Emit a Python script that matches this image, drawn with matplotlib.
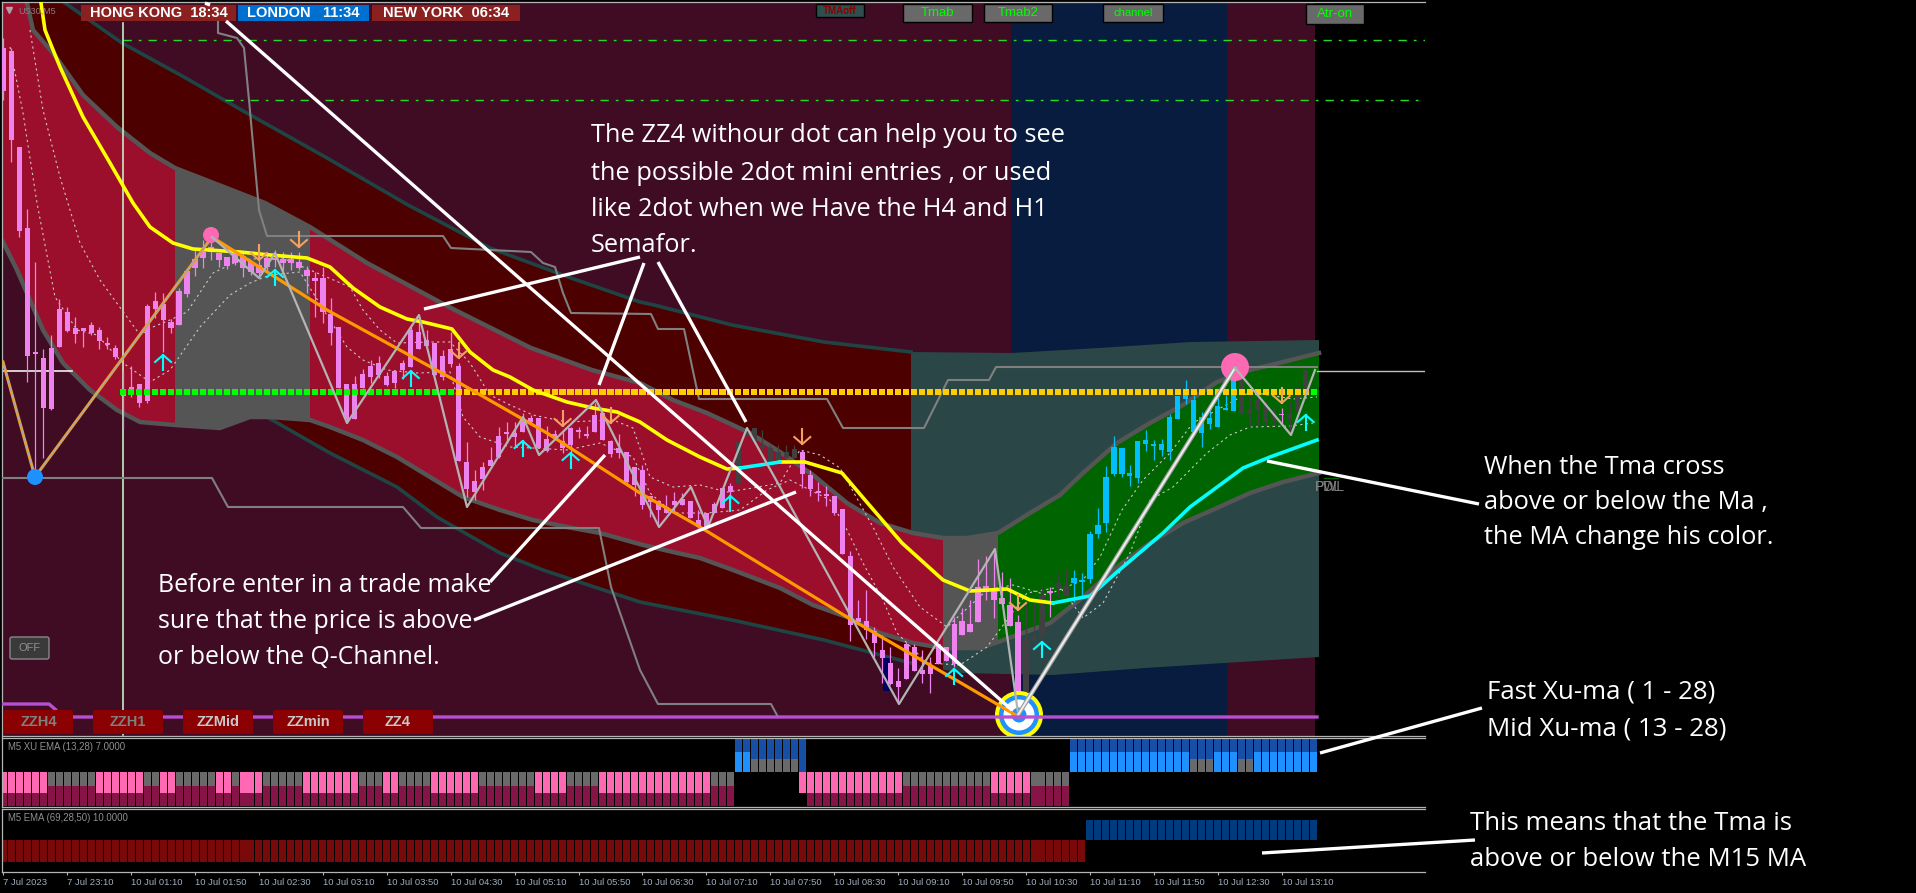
import matplotlib
matplotlib.use("Agg")
import matplotlib.pyplot as plt
from matplotlib.patches import Circle, Rectangle, Polygon, FancyBboxPatch

W, H = 1916, 893
plt.rcParams['font.family'] = ['Open Sans', 'DejaVu Sans']

# ---------- data (chart units: one unit is one screen pixel) ----------
SYMBOL = "US30,M5"
body_top = [48,51,147,228,352,358,348,309,312,328,328,325,330,343,348,391,387,384,306,301,304,322,291,271,259,252,
            247,253,257,253,256,262,265,258,258,259,259,262,270,278,278,314,327,384,384,374,366,363,376,371,363,330,
            332,340,343,356,349,366,462,481,467,460,436,432,433,418,418,418,439,434,441,428,430,434,415,413,441,448,
            452,467,470,496,501,507,501,499,501,520,513,504,488,486,442,430,428,446,448,452,452,449,452,475,491,494,
            496,509,556,618,621,631,650,663,681,644,647,670,665,644,647,624,621,624,587,586,591,598,605,622,640,637,
            595,591,583,586,578,580,534,525,477,447,448,473,441,440,444,444,417,396,389,400,417,418,406,408,373,379,
            410,400,402,410,414,414,388,370]
body_bot = [91,140,231,356,354,408,409,347,331,334,331,333,341,345,357,396,395,403,401,309,320,328,325,294,268,258,
            252,260,266,263,268,272,273,267,260,263,263,268,276,281,312,333,388,419,419,388,377,375,385,383,370,367,
            349,346,375,377,364,461,489,492,479,466,457,434,437,432,422,448,451,438,448,445,432,436,432,440,454,453,
            482,485,505,502,510,513,505,505,518,527,527,513,508,492,483,436,442,448,462,462,458,458,474,489,493,496,
            513,554,625,622,630,643,658,684,687,679,671,674,674,664,661,664,635,632,622,592,600,604,626,703,703,640,
            635,593,588,596,583,582,579,534,523,474,474,476,478,444,446,450,452,419,399,432,433,424,427,410,411,414,
            413,410,422,420,415,419,411,390]
wick_top = [38,48,147,209,262,349,335,299,307,317,328,322,327,337,345,371,366,384,304,292,293,319,288,268,250,240,
            237,253,257,250,253,260,260,255,250,252,252,252,266,272,267,298,327,384,376,369,360,356,372,371,360,327,
            322,330,343,350,332,363,442,470,462,447,427,422,422,413,415,418,426,430,432,427,427,426,403,413,440,434,
            452,467,465,496,501,495,492,493,501,510,513,502,488,483,442,430,428,430,445,445,445,445,450,470,482,486,
            496,509,551,600,590,627,635,647,668,642,644,650,657,644,647,617,608,600,559,556,553,572,578,615,603,603,
            587,587,573,569,570,573,531,508,466,436,448,465,441,430,440,439,414,396,380,395,412,409,395,395,369,379,
            395,395,402,408,408,402,388,370]
wick_bot = [100,162,237,382,477,458,410,347,332,343,347,335,349,349,359,429,397,407,403,318,352,333,325,297,276,268,
            260,267,269,265,277,275,277,272,267,270,270,270,293,317,323,345,388,423,419,388,383,378,386,388,379,367,
            349,347,375,380,367,461,497,500,490,466,458,443,447,432,425,448,452,438,453,452,438,438,432,440,457,458,
            485,496,509,517,525,513,513,505,518,528,527,513,508,502,483,436,442,450,462,462,458,458,488,496,501,506,
            515,554,641,622,639,657,683,685,703,679,671,683,693,664,661,667,635,632,622,600,618,604,626,713,703,650,
            640,617,597,596,602,598,583,538,532,476,477,486,483,451,460,456,460,419,404,432,447,429,427,410,411,414,
            427,427,426,425,425,433,411,390]
bar_kind = list("P"*92 + "D"*8 + "P"*28 + "D"*3 + "P" + "D"*2 + "B"*21 + "D"*5 + "P" + "D"*4)

outer_up_x = [65,122,184,245,327,408,490,571,640,654,732,824,911]
outer_up_y = [3,43,77,112,158,205,248,278,302,305,325,342,352]
outer_top_x = [911,1011,1099,1191,1319]
outer_top_y = [352,353,348,342,340]
outer_lo_x = [267,330,397,437,500,543,640,732,824,911,961,1053,1145,1319]
outer_lo_y = [417,453,487,517,553,570,602,620,640,663,673,675,668,657]
inner_up_x = [27,33,53,83,117,150,175,224,265,310,367,449,531,592,640,673,707,750,780,813,847,880,913,943,967,998,1030,1060,1083,1117,1150,1183,1217,1250,1283,1319]
inner_up_y = [3,30,53,95,127,153,168,187,203,227,263,307,348,370,383,400,413,433,452,475,503,523,533,538,538,533,513,495,473,443,423,405,382,370,362,353]
inner_lo_x = [3,17,30,43,63,90,117,140,175,220,250,270,310,330,363,397,430,463,500,533,567,600,643,673,700,733,780,813,847,880,913,943,980,998,1050,1083,1117,1150,1183,1217,1250,1283,1319]
inner_lo_y = [242,270,300,330,363,390,410,422,425,428,417,417,420,427,440,457,477,497,510,520,527,533,545,552,558,570,588,605,617,633,643,648,648,642,623,597,567,543,523,508,493,482,473]

ma_red_x = [41,45,60,83,110,133,150,173,193,240,270,307,330,353,380,407,423,452,470,493,510,533,567,593,617,640,667,700,727,740]
ma_red_y = [3,30,67,117,163,203,227,243,249,252,255,258,267,288,307,319,322,329,352,370,377,390,402,408,412,422,440,457,469,468]
ma_cyan1_x = [740,760,780]
ma_cyan1_y = [468,465,462]
ma_red2_x = [780,805,842,865,902,943,970,1007,1030,1053]
ma_red2_y = [462,462,473,500,543,580,591,589,600,603]
ma_cyan2_x = [1053,1090,1117,1163,1190,1243,1270,1317]
ma_cyan2_y = [603,596,572,533,507,468,457,440]

zz_orange_x = [212,327,449,547,640,700,847,961,1019]
zz_orange_y = [237,310,377,433,493,527,617,683,717]
zz_h4_x = [3,35,212]
zz_h4_y = [362,477,237]
zz4_x = [212,259,275,347,419,467,523,539,596,659,691,708,747,780,899,995,1018]
zz4_y = [237,278,253,423,315,507,417,455,400,527,487,527,428,487,704,549,713]
zz_big_x = [1018,1235]
zz_big_y = [715,368]
zz_end_x = [1235,1291,1315]
zz_end_y = [368,435,370]

step_hi_x = [218,218,237,244,249,259,267,443,451,531,543,555,563,571,651,658,684,699,827,843,924,948,989,996,1317]
step_hi_y = [21,33,38,48,100,210,236,236,248,252,263,267,293,313,314,329,329,399,399,428,428,380,380,367,367]
step_lo_x = [3,212,228,403,421,599,611,640,658,771,778]
step_lo_y = [478,478,507,507,528,528,587,670,704,704,717]
magenta_x = [3,49,56,56,1317]
magenta_y = [704,704,710,717,717]

dot1_x = [30,43,60,80,100,127,140,153,170,187,213,240,280,310,350,363,380,397,430,450,470,490,510,533,567,613,633,650,673,700,727,753,780,800,820,840,873,893,920,947,987,1013,1047,1083,1100,1122,1143,1170,1193,1250,1293,1317]
dot1_y = [30,110,177,243,280,317,335,327,320,312,273,260,257,270,287,310,330,343,342,342,363,395,405,415,422,420,428,477,487,485,492,488,483,450,455,468,527,567,607,627,590,585,595,580,557,510,480,453,423,392,399,397]
dot2_x = [10,23,37,55,77,97,123,150,170,200,230,250,270,300,330,347,363,387,417,450,463,480,510,533,567,600,633,650,673,707,740,767,790,830,847,863,883,897,927,960,987,1027,1060,1083,1103,1130,1150,1173,1207,1230,1250,1290,1313]
dot2_y = [47,113,203,297,330,335,363,382,370,327,295,283,275,272,320,347,360,370,373,372,417,437,447,448,450,443,457,493,513,513,510,490,480,500,530,563,600,633,663,665,647,593,587,618,603,553,500,487,453,435,427,426,423]

up_idx = [20,34,51,65,71,91,119,130,163]
up_tip = [355,270,371,441,453,496,669,642,415]
down_idx = [32,37,57,70,76,100,127,160]
down_tip = [260,247,358,426,423,444,610,403]

pink_top = [6,6,6,2,2,5,2,1,3,5,7,3,2,4,6,7,4,4,14,3]   # alternating pink / grey runs, first block
pink_mid = [12,11,5,5]                                  # pink, grey, pink, grey
blue_runs = [15,3,3,2,8]                                # light, grey, light, grey, light
sub2_red = 136
sub2_total = 165

time_labels = ["7 Jul 2023","7 Jul 23:10","10 Jul 01:10","10 Jul 01:50","10 Jul 02:30","10 Jul 03:10","10 Jul 03:50",
               "10 Jul 04:30","10 Jul 05:10","10 Jul 05:50","10 Jul 06:30","10 Jul 07:10","10 Jul 07:50","10 Jul 08:30",
               "10 Jul 09:10","10 Jul 09:50","10 Jul 10:30","10 Jul 11:10","10 Jul 11:50","10 Jul 12:30","10 Jul 13:10"]

notes = [("The ZZ4 withour dot can help you to see",591,136,18.3),("the possible 2dot mini entries , or used",591,173,18.3),
         ("like 2dot when we Have the H4 and H1",591,209,18.3),("Semafor.",591,245,18.3),
         ("Before enter in a trade make",158,586,17.9),("sure that the price is above",158,622,17.9),("or below the Q-Channel.",158,657,17.9),
         ("When the Tma cross",1484,468,18.3),("above or below the Ma ,",1484,503,18.3),("the MA change his color.",1484,538,18.3),
         ("Fast Xu-ma ( 1 - 28)",1487,692,18.6),("Mid Xu-ma ( 13 - 28)",1487,729,18.6),
         ("This means that the Tma is",1470,823,18.5),("above or below the M15 MA",1470,860,18.5)]
note_lines = [([205,210],[3,5]),([226,1012],[21,710]),([424,640],[309,257]),([599,644],[385,263]),([658,746],[262,422]),
              ([474,796],[620,492]),([490,605],[582,455]),([1267,1479],[461,504]),([1320,1482],[753,708]),([1262,1475],[853,840])]

# ---------- helpers ----------
C_BG, C_BLUE = '#3F0C24', '#081C3F'
C_DRED, C_SLATE, C_CRIM, C_GREY, C_GREEN = '#4D0000', '#2B4646', '#9B0F2D', '#555555', '#006400'
X0, PITCH = 3.3, 7.99
fig = plt.figure(figsize=(W/100, H/100), dpi=100, facecolor='black')

def axpx(l, t, r, b):
    a = fig.add_axes([l/W, 1-b/H, (r-l)/W, (b-t)/H], facecolor='black')
    a.set_xlim(l, r); a.set_ylim(b, t)
    a.set_xticks([]); a.set_yticks([])
    for s in a.spines.values():
        s.set_color('#B4B4B4'); s.set_linewidth(0.9)
    a.spines['right'].set_visible(False)
    return a

def xc(i):
    return X0 + PITCH*i

ax = axpx(2, 2, 1425, 735.5)
a1 = axpx(2, 737.5, 1425, 807)
a2 = axpx(2, 808.5, 1425, 872)
ov = fig.add_axes([0, 0, 1, 1], facecolor='none')
ov.set_xlim(0, W); ov.set_ylim(H, 0); ov.axis('off')

# sessions background
for l, r, c in [(2,1011,C_BG),(1011,1227,C_BLUE),(1227,1315,C_BG)]:
    ax.add_patch(Rectangle((l,0), r-l, 740, fc=c, ec='none', zorder=0))

def clipped_poly(xs, ys, color, l, r):
    p = Polygon(list(zip(xs, ys)), closed=True, fc=color, ec='none', zorder=1)
    ax.add_patch(p)
    p.set_clip_path(Rectangle((l,0), r-l, 740, transform=ax.transData))

up_x = outer_up_x + outer_top_x[1:]
up_y = outer_up_y + outer_top_y[1:]
poly_x = up_x + inner_up_x[::-1]
poly_y = up_y + inner_up_y[::-1]
clipped_poly(poly_x, poly_y, C_DRED, 2, 911)
clipped_poly(poly_x, poly_y, C_SLATE, 911, 1319)
poly_x = inner_lo_x[5:] + outer_lo_x[::-1]
poly_y = inner_lo_y[5:] + outer_lo_y[::-1]
clipped_poly(poly_x, poly_y, C_DRED, 2, 943)
clipped_poly(poly_x, poly_y, C_SLATE, 943, 1319)
poly_x = [3] + inner_up_x + inner_lo_x[::-1]
poly_y = [3] + inner_up_y + inner_lo_y[::-1]
for l, r, c in [(2,175,C_CRIM),(175,310,C_GREY),(310,943,C_CRIM),(943,998,C_GREY),(998,1319,C_GREEN)]:
    clipped_poly(poly_x, poly_y, c, l, r)

ax.plot(outer_up_x, outer_up_y, color='#1F4444', lw=2.6, zorder=2)
ax.plot(outer_lo_x[:10], outer_lo_y[:10], color='#1F4444', lw=2.6, zorder=2)
ax.plot(inner_up_x, inner_up_y, color=C_GREY, lw=3.2, zorder=2)
ax.plot(inner_lo_x, inner_lo_y, color=C_GREY, lw=3.2, zorder=2)

# levels
ax.plot([123,1425],[40,40], color='#22DD22', lw=1, ls=(0,(6,5,2,5)), zorder=2)
ax.plot([225,1425],[100,100], color='#22DD22', lw=1, ls=(0,(6,5,2,5)), zorder=2)
ax.plot([123,123],[23,735], color='#C4EEC4', lw=1.2, zorder=2)
ax.plot([3,72],[371,371], color='#F0F0F0', lw=1.2, zorder=2)
ax.plot([1317,1425],[371,371], color='#C0C0C0', lw=1, zorder=2)
ax.plot(step_hi_x, step_hi_y, color='#808080', lw=1.5, zorder=3)
ax.plot(step_lo_x, step_lo_y, color='#808080', lw=1.5, zorder=3)
ax.plot(dot1_x, dot1_y, color='#C8C8C8', lw=0.8, ls=(0,(2,3)), zorder=3)
ax.plot(dot2_x, dot2_y, color='#C8C8C8', lw=0.8, ls=(0,(2,3)), zorder=3)

# candles
ax.add_patch(Rectangle((883,658), 9, 33, fc='#000060', ec='none', zorder=3))
kind_colors = {'P':'#EE82EE','D':'#404040','B':'#00BFFF'}
for i in range(len(body_top)):
    c = kind_colors[bar_kind[i]]
    x = xc(i)
    ax.plot([x,x],[wick_top[i],wick_bot[i]], color=c, lw=0.9, zorder=4, solid_capstyle='butt')
    ax.bar(x, max(body_bot[i]-body_top[i],1.5), bottom=body_top[i], width=5.2, color=c, lw=0, zorder=4)

# pivot dots row
dots_idx = list(range(15,165))
dots_col = ['#00FF00' if i<=56 or i==164 else '#FFCC00' for i in dots_idx]
ax.scatter([xc(i) for i in dots_idx],[392]*len(dots_idx), c=dots_col, marker='s', s=20, linewidths=0, zorder=5)

# MAs and zigzags
ax.plot(ma_red_x, ma_red_y, color='#FFFF00', lw=2.6, zorder=6)
ax.plot(ma_red2_x, ma_red2_y, color='#FFFF00', lw=2.6, zorder=6)
ax.plot(ma_cyan1_x, ma_cyan1_y, color='#00FFFF', lw=2.6, zorder=6)
ax.plot(ma_cyan2_x, ma_cyan2_y, color='#00FFFF', lw=2.6, zorder=6)
ax.plot(zz_orange_x, zz_orange_y, color='#FF9900', lw=2.3, zorder=6)
ax.plot(zz_h4_x, zz_h4_y, color='#FF9900', lw=2.2, zorder=6)
ax.plot(zz_h4_x, zz_h4_y, color='#A8A8A8', lw=1.2, zorder=6)
ax.plot(zz4_x, zz4_y, color='#B4B4B4', lw=1.6, zorder=7)
ax.plot(zz_big_x, zz_big_y, color='#A0A0A0', lw=3.2, zorder=7)
ax.plot(zz_big_x, zz_big_y, color='#F0F0F0', lw=1.4, zorder=7)
ax.plot(zz_end_x, zz_end_y, color='#B4B4B4', lw=1.6, zorder=7)

# arrows
for i, t in zip(up_idx, up_tip):
    x = xc(i)
    ax.plot([x,x],[t,t+15], color='#00FFFF', lw=1.5, zorder=8)
    ax.plot([x-8,x,x+8],[t+7,t,t+7], color='#00FFFF', lw=1.5, zorder=8)
for i, t in zip(down_idx, down_tip):
    x = xc(i)
    ax.plot([x,x],[t,t-15], color='#F4A060', lw=1.5, zorder=8)
    ax.plot([x-8,x,x+8],[t-7,t,t-7], color='#F4A060', lw=1.5, zorder=8)

# pivots
ax.add_patch(Circle((211,235), 8, fc='#FF69B4', ec='none', zorder=6))
ax.add_patch(Circle((1235,367), 14, fc='#FF69B4', ec='none', zorder=6))
ax.add_patch(Circle((35,477), 8, fc='#1E90FF', ec='none', zorder=6))
for r, c in [(24,'#FFFF00'),(20,'#1E90FF'),(15.5,'#FFFFFF'),(7.5,'#1E90FF')]:
    ax.add_patch(Circle((1019,715), r, fc=c, ec='none', zorder=5.5))
ax.plot(magenta_x, magenta_y, color='#B84FD0', lw=2.4, zorder=8)

# white-on-top status labels
def box(a, l, t, r, b, fc, ec='none', z=9, round_=False):
    if round_:
        a.add_patch(FancyBboxPatch((l+2,t+2), r-l-4, b-t-4, boxstyle='round,pad=2', fc=fc, ec=ec, lw=1, zorder=z))
    else:
        a.add_patch(Rectangle((l,t), r-l, b-t, fc=fc, ec=ec, lw=1, zorder=z))

for l, r, c, s in [(81,236,'#8B2020','HONG KONG  18:34'),(238,369,'#0070D0','LONDON   11:34'),(372,520,'#8B2020','NEW YORK  06:34')]:
    box(ax, l, 5, r, 21, c)
    ax.text((l+r)/2, 13, s, color='white', fontsize=10.5, fontweight='bold', family='Liberation Sans', ha='center', va='center', zorder=10)
ax.text(18, 11, SYMBOL, color='#8A7A80', fontsize=6.5, family='Liberation Sans', va='center', zorder=10)
ax.plot([9],[10], marker='v', ms=4, color='#B0A0A8', zorder=10)

for l, r, b_, s, fs in [(903,972,22,'Tmab',9.5),(984,1052,22,'Tmab2',9.5),(1103,1163,22,'channel',8),(1306,1364,24,'Atr-on',9.5)]:
    box(ax, l, 4, r, b_, '#696969', ec='black')
    ax.text((l+r)/2, (4+b_)/2, s, color='#00FF00', fontsize=fs, family='Liberation Sans', ha='center', va='center', zorder=10)
box(ax, 816, 4, 864, 17, '#2F4F4F', ec='black')
ax.text(840, 11, 'TMAoff', color='#8B0000', fontsize=7, fontweight='bold', family='Liberation Sans', ha='center', va='center', zorder=10)

for l, r, s, c in [(4,73,'ZZH4','#808080'),(93,163,'ZZH1','#808080'),(183,253,'ZZMid','#C8C8C8'),(273,343,'ZZmin','#C8C8C8'),(363,433,'ZZ4','#C8C8C8')]:
    box(ax, l, 710, r, 734, '#8B0000', round_=True)
    ax.text((l+r)/2, 722, s, color=c, fontsize=10.5, fontweight='bold', family='Liberation Sans', ha='center', va='center', zorder=10)
box(ax, 10, 637, 49, 659, '#3A3A3A', ec='#888888', round_=True)
ax.text(29.5, 648, 'OFF', color='#909090', fontsize=8, family='Liberation Sans', ha='center', va='center', zorder=10)
ax.text(1315, 487, 'PWL', color='#808080', fontsize=10, family='Liberation Sans', va='center', zorder=10)
ax.text(1315, 487, 'PDL', color='#808080', fontsize=10, family='Liberation Sans', va='center', zorder=10)
ax.plot([1324,1338],[478,478], color='#006400', lw=1, zorder=10)

# sub window 1
a1.text(7.6, 747, 'M5 XU EMA (13,28) 7.0000', color='#909090', fontsize=6.9, family='Liberation Sans', va='center')
def seg(a, idx, top, bot, col):
    a.bar([xc(i) for i in idx], bot-top, bottom=top, width=7, color=col, lw=0, zorder=2)

i = 0
runs = [(c, n) for k, n in enumerate(pink_top) for c in ['PG'[k % 2]]]
for c, n in runs:
    idx = list(range(i, i+n))
    if c == 'P':
        seg(a1, idx, 772, 793, '#FF69B4'); seg(a1, idx, 793, 806, '#861447')
    else:
        seg(a1, idx, 772, 786, '#696969'); seg(a1, idx, 786, 806, '#861447')
    i += n
# blue block: two light, six grey, one transition bar
seg(a1, range(92,101), 738, 752, '#174EA6')
seg(a1, [92,93], 752, 772, '#1E90FF')
seg(a1, range(94,100), 752, 759, '#174EA6'); seg(a1, range(94,100), 759, 772, '#696969')
seg(a1, [100], 752, 772, '#174EA6'); seg(a1, [100], 772, 793, '#FF69B4')
i = 101
for k, n in enumerate(pink_mid):
    idx = list(range(i, i+n))
    if k % 2 == 0:
        seg(a1, idx, 772, 793, '#FF69B4'); seg(a1, idx, 793, 806, '#861447')
    else:
        seg(a1, idx, 772, 786, '#696969'); seg(a1, idx, 786, 806, '#861447')
    i += n
for k, n in enumerate(blue_runs):
    idx = list(range(i, i+n))
    seg(a1, idx, 738, 752, '#174EA6')
    if k % 2 == 0:
        seg(a1, idx, 752, 772, '#1E90FF')
    else:
        seg(a1, idx, 752, 759, '#174EA6'); seg(a1, idx, 759, 772, '#696969')
    i += n

# sub window 2
a2.text(7.6, 818, 'M5 EMA (69,28,50) 10.0000', color='#909090', fontsize=6.9, family='Liberation Sans', va='center')
seg(a2, range(sub2_red), 840, 862, '#7A0A0A')
seg(a2, range(sub2_red, sub2_total), 820, 840, '#003C7D')

# time axis
a2.set_xticks([xc(8*k) for k in range(len(time_labels))])
a2.set_xticklabels(time_labels, ha='left', color='#A0AEBC', fontsize=6.8, family='Liberation Sans')
a2.tick_params(axis='x', length=2.5, width=0.8, color='#B4B4B4', pad=2, bottom=True)

# annotations
for xs, ys in note_lines:
    ov.plot(xs, ys, color='white', lw=2.4, zorder=20, solid_capstyle='butt')
for s, x, y, fs in notes:
    ov.text(x, y, s, color='white', fontsize=fs, va='center', ha='left', zorder=21)

fig.savefig('out.png', dpi=100, facecolor='black')
